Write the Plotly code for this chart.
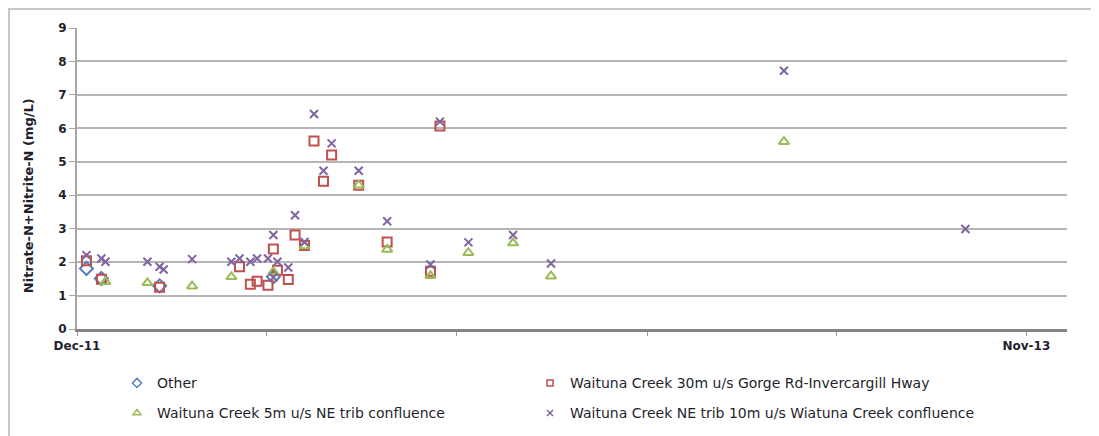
import plotly.graph_objects as go

# ---- data ----
other_dates = ["2011-12-08", "2011-12-19", "2012-01-31", "2012-04-24"]
other_vals = [1.81, 1.51, 1.29, 1.56]

red_dates = ["2011-12-08", "2011-12-19", "2012-01-31", "2012-03-30", "2012-04-07",
             "2012-04-12", "2012-04-20", "2012-04-24", "2012-04-27", "2012-05-05",
             "2012-05-10", "2012-05-17", "2012-05-24", "2012-05-31", "2012-06-06",
             "2012-06-26", "2012-07-17", "2012-08-18", "2012-08-25"]
red_vals = [2.04, 1.49, 1.25, 1.86, 1.34,
            1.43, 1.31, 2.39, 1.76, 1.48,
            2.81, 2.50, 5.62, 4.42, 5.20,
            4.30, 2.60, 1.73, 6.07]

green_dates = ["2011-12-22", "2012-01-22", "2012-02-24", "2012-03-24", "2012-04-24",
               "2012-05-17", "2012-06-26", "2012-07-17", "2012-08-18", "2012-09-15",
               "2012-10-18", "2012-11-15", "2013-05-06"]
green_vals = [1.41, 1.38, 1.28, 1.56, 1.71,
              2.48, 4.30, 2.38, 1.59, 2.28,
              2.57, 1.58, 5.60]

purple_dates = ["2011-12-08", "2011-12-19", "2011-12-22", "2012-01-22", "2012-01-31",
                "2012-02-03", "2012-02-24", "2012-03-24", "2012-03-30", "2012-04-07",
                "2012-04-12", "2012-04-20", "2012-04-24", "2012-04-24", "2012-04-27",
                "2012-05-05", "2012-05-10", "2012-05-17", "2012-05-24", "2012-05-31",
                "2012-06-06", "2012-06-26", "2012-07-17", "2012-08-18", "2012-08-25",
                "2012-09-15", "2012-10-18", "2012-11-15", "2013-05-06", "2013-09-17"]
purple_vals = [2.21, 2.11, 2.01, 2.01, 1.86,
               1.78, 2.09, 2.01, 2.11, 2.01,
               2.11, 2.11, 2.81, 1.54, 2.01,
               1.84, 3.40, 2.60, 6.43, 4.73,
               5.55, 4.73, 3.22, 1.93, 6.20,
               2.59, 2.81, 1.96, 7.72, 2.99]

series_names = ["Other",
                "Waituna Creek 30m u/s Gorge Rd-Invercargill Hway",
                "Waituna Creek 5m u/s NE trib confluence",
                "Waituna Creek NE trib 10m u/s Wiatuna Creek confluence"]
series_colors = ["#4F81BD", "#C0504D", "#9BBB59", "#8064A2"]
series_symbols = ["diamond-open", "square-open", "triangle-up-open", "x-thin-open"]
series_sizes = [10, 9, 9, 8]
legend_sizes = [7, 6, 7, 6]

y_title = "Nitrate-N+Nitrite-N (mg/L)"
tick_dates = ["2011-12-01", "2012-04-19", "2012-09-06", "2013-01-25", "2013-06-14", "2013-11-01"]
tick_text = ["Dec-11", "", "", "", "", "Nov-13"]
x_range = ["2011-12-01", "2013-12-01"]

# ---- figure ----
fig = go.Figure()
all_x = [other_dates, red_dates, green_dates, purple_dates]
all_y = [other_vals, red_vals, green_vals, purple_vals]
for i in range(4):
    fig.add_trace(go.Scatter(
        x=all_x[i], y=all_y[i], mode="markers", name=series_names[i], showlegend=False,
        marker=dict(symbol=series_symbols[i], size=series_sizes[i], color=series_colors[i],
                    line=dict(width=2, color=series_colors[i]))))

legend_ids = ["legend", "legend2", "legend3", "legend4"]
legend_pos = [(0.0404, -0.1806), (0.4576, -0.1806), (0.0404, -0.2803), (0.4576, -0.2803)]
# legend-only entries with small symbols, as in the reference legend
for i in range(4):
    fig.add_trace(go.Scatter(
        x=[None], y=[None], mode="markers", name=series_names[i], legend=legend_ids[i],
        marker=dict(symbol=series_symbols[i], size=legend_sizes[i], color=series_colors[i],
                    line=dict(width=1.5, color=series_colors[i]))))

axis_font = dict(family="DejaVu Sans", size=12, color="#1f1f2e", weight="bold")
legend_font = dict(family="DejaVu Sans", size=14, color="#1f1f2e")

legends = {}
for i in range(4):
    legends[legend_ids[i]] = dict(orientation="h", x=legend_pos[i][0], y=legend_pos[i][1],
                                  xanchor="left", yanchor="middle", font=legend_font,
                                  bgcolor="rgba(0,0,0,0)", itemsizing="trace")

fig.update_layout(
    width=1091, height=428,
    margin=dict(l=69, r=32, t=20, b=107, autoexpand=False),
    paper_bgcolor="white", plot_bgcolor="white",
    showlegend=True,
    xaxis=dict(type="date", range=x_range, tickvals=tick_dates, ticktext=tick_text,
               ticks="outside", ticklen=4, tickcolor="#9a9a9a", tickwidth=1,
               showgrid=False, showline=True, linecolor="#858585", linewidth=3,
               zeroline=False, tickfont=axis_font, automargin=False),
    yaxis=dict(range=[0, 9], dtick=1, tick0=0, showgrid=True, gridcolor="#b5b5b5",
               gridwidth=2, showline=True, linecolor="#a6a6a6", linewidth=2,
               ticks="outside", ticklen=6, tickcolor="#a6a6a6", zeroline=False,
               tickfont=axis_font, automargin=False),
    annotations=[dict(text=y_title, textangle=-90, xref="paper", yref="paper",
                      x=-0.0495, y=0.4446, xanchor="center", yanchor="middle",
                      showarrow=False,
                      font=dict(family="DejaVu Sans", size=13, color="#1f1f2e",
                                weight="bold"))],
    shapes=[dict(type="rect", xref="paper", yref="paper", x0=-0.0687, y0=-0.6,
                 x1=1.2, y1=1.0632, line=dict(color="#c8c8c8", width=2),
                 layer="below")],
    **legends,
)

fig.write_html("out.html")
